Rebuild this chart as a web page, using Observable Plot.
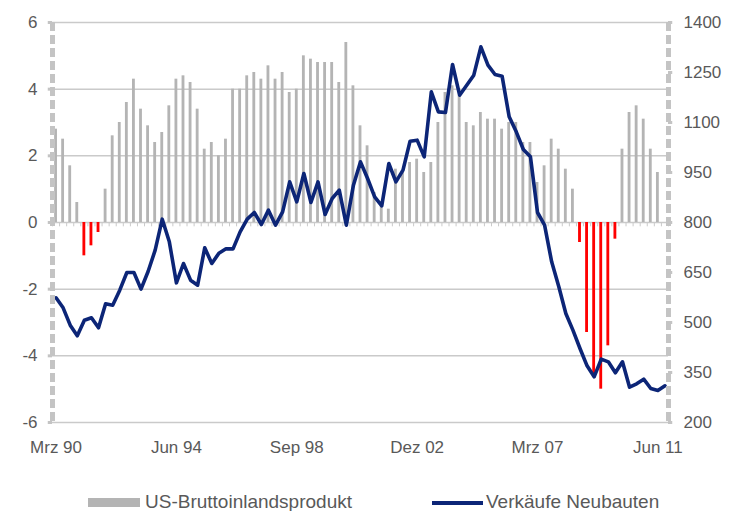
<!DOCTYPE html>
<html>
<head>
<meta charset="utf-8">
<script src="https://cdn.jsdelivr.net/npm/d3@7"></script>
<script src="https://cdn.jsdelivr.net/npm/@observablehq/plot@0.6"></script>
<style>
  html, body { margin: 0; padding: 0; background: #fff; }
  #wrap { position: relative; width: 735px; height: 511px; overflow: hidden; font-family: "Liberation Sans", Arial, sans-serif; color: #595959; }
  #chart svg { display: block; }
  .leg { position: absolute; font-size: 19px; line-height: 22px; white-space: nowrap; }
</style>
</head>
<body>
<div id="wrap">
  <div id="chart"></div>
  <div class="leg" style="left:88px; top:498px; width:52px; height:9px; background:#b4b4b4;"></div>
  <div class="leg" style="left:145px; top:491px;">US-Bruttoinlandsprodukt</div>
  <div class="leg" style="left:432px; top:501px; width:51px; height:4px; background:#0c2577;"></div>
  <div class="leg" style="left:486px; top:491px;">Verkäufe Neubauten</div>
</div>
<script>
// US GDP, % yoy, quarterly from Mrz 90 (last quarter not yet available)
const gdp = [2.8, 2.5, 1.7, 0.6, -1.0, -0.7, -0.3, 1.0, 2.6, 3.0,
             3.6, 4.3, 3.4, 2.9, 2.4, 2.7, 3.5, 4.3, 4.4, 4.2,
             3.4, 2.2, 2.4, 2.0, 2.5, 4.0, 4.0, 4.4, 4.5, 4.3,
             4.7, 4.3, 4.5, 3.9, 4.0, 5.0, 4.9, 4.8, 4.8, 4.8,
             4.2, 5.4, 4.1, 2.9, 2.3, 0.9, 0.6, 0.4, 1.6, 1.5,
             1.8, 1.9, 1.5, 1.8, 3.0, 3.9, 4.1, 3.8, 3.0, 2.9,
             3.3, 3.1, 3.1, 2.8, 3.0, 3.0, 2.4, 2.4, 1.2, 1.7,
             2.5, 2.2, 1.6, 1.0, -0.6, -3.3, -4.6, -5.0, -3.7, -0.5,
             2.2, 3.3, 3.5, 3.1, 2.2, 1.5];
// New home sales, thousands (right axis)
const sales = [574, 544, 492, 460, 507, 514, 484, 556, 552, 597,
               650, 650, 600, 653, 717, 810, 742, 619, 677, 627,
               612, 724, 677, 708, 721, 721, 772, 810, 830, 794,
               837, 792, 832, 922, 862, 947, 860, 922, 824, 872,
               897, 792, 912, 982, 932, 877, 850, 977, 922, 957,
               1044, 1047, 997, 1192, 1132, 1130, 1274, 1182, 1212, 1242,
               1327, 1272, 1244, 1239, 1117, 1072, 1019, 997, 830, 792,
               682, 608, 527, 477, 422, 370, 337, 390, 382, 349,
               382, 306, 316, 330, 302, 296, 310];
const xTickIndex = [0, 17, 34, 51, 68, 85];
const xTickLabels = ["Mrz 90", "Jun 94", "Sep 98", "Dez 02", "Mrz 07", "Jun 11"];
const leftTicks = [-6, -4, -2, 0, 2, 4, 6];
const rightTicks = [200, 350, 500, 650, 800, 950, 1100, 1250, 1400];
const gridValues = [-6, -4, -2, 2, 4, 6];

// right axis mapped onto left scale: 200..1400 -> -6..6
const toLeft = v => (v - 800) / 100;
const fromLeft = v => Math.round(v * 100 + 800);

const nCat = sales.length;
const gdpData = gdp.map((v, i) => ({i, v}));
const salesData = sales.map((v, i) => ({i, v}));
const boundaries = d3.range(nCat + 1).map(k => k - 0.5);

const axisColor = "#c4c4c4";
const gridColor = "#cacaca";

const chart = Plot.plot({
  width: 735,
  height: 470,
  marginLeft: 52,
  marginRight: 67,
  marginTop: 22,
  marginBottom: 48,
  x: {domain: [-0.5, nCat - 0.5]},
  y: {domain: [-6, 6]},
  style: {fontFamily: "Liberation Sans, Arial, sans-serif", fontSize: "17px", color: "#595959", background: "transparent"},
  marks: [
    Plot.ruleY(gridValues, {stroke: gridColor, strokeWidth: 1.5}),
    Plot.ruleY([0], {stroke: gridColor, strokeWidth: 1.5}),
    Plot.ruleX(boundaries, {y1: 0, y2: -0.13, stroke: gridColor, strokeWidth: 1}),
    Plot.rectY(gdpData, {x1: d => d.i - 0.2, x2: d => d.i + 0.2, y: "v", fill: d => d.v < 0 ? "#ff0000" : "#b4b4b4"}),
    Plot.line(salesData, {x: "i", y: d => toLeft(d.v), stroke: "#0c2577", strokeWidth: 3.6, strokeLinejoin: "round"}),
    // dashed value axes
    Plot.ruleX([-0.5], {stroke: axisColor, strokeWidth: 5, strokeDasharray: "9,4"}),
    Plot.ruleX([nCat - 0.5], {stroke: axisColor, strokeWidth: 5, strokeDasharray: "9,4"}),
    Plot.ruleY(leftTicks, {x1: -0.5, x2: -1.1, stroke: axisColor, strokeWidth: 3}),
    Plot.ruleY(rightTicks.map(toLeft), {x1: nCat - 0.5, x2: nCat + 0.1, stroke: axisColor, strokeWidth: 3}),
    Plot.axisY(leftTicks, {anchor: "left", tickSize: 0, tickPadding: 15, tickFormat: d => String(d), label: null}),
    Plot.axisY(rightTicks.map(toLeft), {anchor: "right", tickSize: 0, tickPadding: 15, tickFormat: d => String(fromLeft(d)), label: null}),
    Plot.axisX(xTickIndex, {anchor: "bottom", tickSize: 0, tickPadding: 18, tickFormat: d => xTickLabels[xTickIndex.indexOf(d)], label: null})
  ]
});
document.getElementById("chart").appendChild(chart);
</script>
</body>
</html>
